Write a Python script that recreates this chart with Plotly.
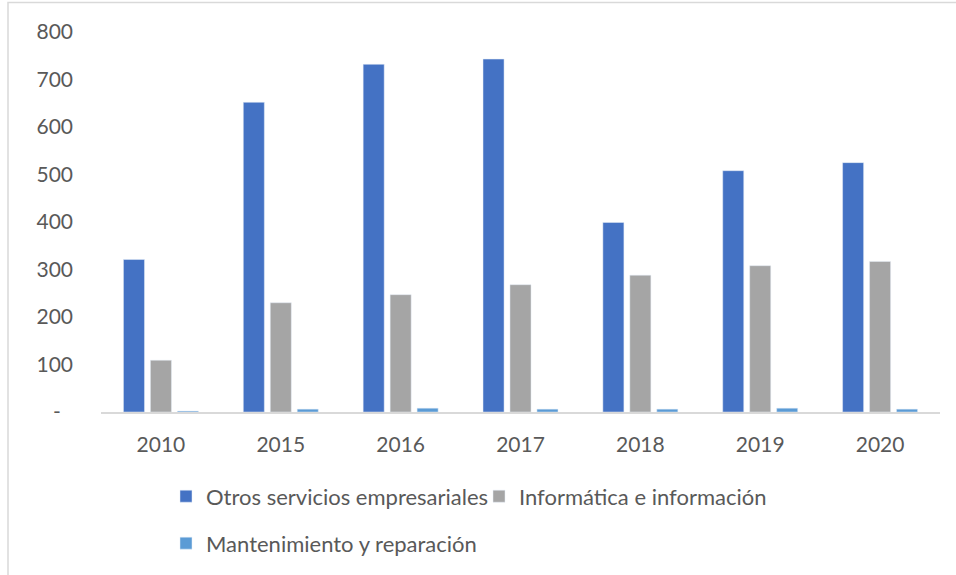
import plotly.graph_objects as go

years = ["2010", "2015", "2016", "2017", "2018", "2019", "2020"]
otros = [321, 652, 732, 743, 399, 508, 525]
informatica = [109, 230, 247, 268, 288, 308, 317]
mantenimiento = [2, 6, 8, 6, 6, 8, 6]

series_names = ["Otros servicios empresariales", "Informática e información", "Mantenimiento y reparación"]
colors = ["#4472C4", "#A5A5A5", "#5B9BD5"]

y_tickvals = [0, 100, 200, 300, 400, 500, 600, 700, 800]
y_ticktext = ["-\u2007", "100", "200", "300", "400", "500", "600", "700", "800"]

FONT = "Lato"
TXT = "#595959"

fig = go.Figure()
fig.add_trace(go.Bar(x=years, y=otros, name=series_names[0], marker_color=colors[0], legend="legend"))
fig.add_trace(go.Bar(x=years, y=informatica, name=series_names[1], marker_color=colors[1], legend="legend"))
fig.add_trace(go.Bar(x=years, y=mantenimiento, name=series_names[2], marker_color=colors[2], legend="legend2"))

W, H = 956, 575
ml, mr, mt, mb = 101, 16, 32, 161.5
pw = W - ml - mr
ph = H - mt - mb

def px_x(p):
    return (p - ml) / pw

def px_y(p):
    return (H - mb - p) / ph

legend_font = dict(family=FONT, size=22, color=TXT)

fig.update_layout(
    width=W, height=H,
    margin=dict(l=ml, r=mr, t=mt, b=mb, pad=0),
    paper_bgcolor="white", plot_bgcolor="white",
    barmode="group", bargap=0.325, bargroupgap=0.22,
    font=dict(family=FONT, size=21, color=TXT),
    showlegend=True,
    legend=dict(orientation="h", x=px_x(166), xanchor="left", y=px_y(497), yanchor="middle",
                entrywidth=268, entrywidthmode="pixels",
                font=legend_font, bgcolor="rgba(0,0,0,0)", itemclick=False),
    legend2=dict(orientation="h", x=px_x(166), xanchor="left", y=px_y(544), yanchor="middle",
                 font=legend_font, bgcolor="rgba(0,0,0,0)", itemclick=False),
    xaxis=dict(showline=True, linecolor="#d9d9d9", linewidth=1.5, showgrid=False, ticks="",
               ticklabelstandoff=13, tickfont=dict(family=FONT, size=21, color=TXT), fixedrange=True),
    yaxis=dict(range=[0, 800], tickvals=y_tickvals, ticktext=y_ticktext, showgrid=False,
               showline=False, zeroline=False, ticks="", ticklabelstandoff=27,
               tickfont=dict(family=FONT, size=21, color=TXT), fixedrange=True),
    shapes=[dict(type="rect", xref="paper", yref="paper",
                 x0=px_x(8), x1=px_x(970), y0=px_y(590), y1=px_y(2.3),
                 line=dict(color="#d9d9d9", width=1.5), fillcolor="rgba(0,0,0,0)", layer="below")],
)

fig.write_html("out.html", config={"displayModeBar": False},
               post_script="document.body.style.margin='0';document.body.style.overflow='hidden';")
